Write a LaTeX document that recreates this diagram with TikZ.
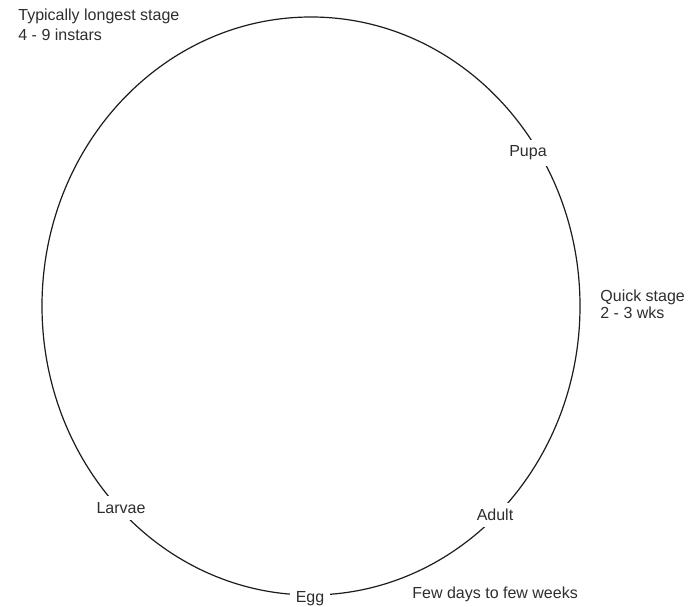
\documentclass[tikz,border=0pt]{standalone}
\usepackage{fontspec}
\setmainfont{Liberation Sans}
\usetikzlibrary{positioning}
\definecolor{ink}{HTML}{1C1C1C}
\definecolor{graph}{HTML}{2E2E2E}
\definecolor{paper}{HTML}{FFFFFF}

\begin{document}
\begin{tikzpicture}[x=0.5pt,y=0.5pt,every node/.style={font=\fontsize{8}{8.5}\selectfont,text=graph},
 stage/.style={fill=paper,inner sep=3pt},
 note/.style={align=left,inner sep=0pt},
 cycle/.style={draw=ink,line width=0.6pt}]
\useasboundingbox[fill=paper] (0,0) rectangle (695,606);
\coordinate (c) at (311,300);
\draw[cycle] (c) ellipse [x radius=134.5pt,y radius=144.5pt];
\node[stage](egg) at (310,7) {Egg};
\node[stage](larvae) at (121,98) {Larvae};
\node[stage](pupa) at (528,453) {Pupa};
\node[stage](adult) at (495,91) {Adult};
\node[note,anchor=north west,font=\fontsize{8}{10}\selectfont](long) at (18,597) {Typically longest stage\\4 - 9 instars};
\node[note,anchor=west](quick) at (600,302) {Quick stage\\2 - 3 wks};
\node[note,anchor=west](few) at (412,12) {Few days to few weeks};
\end{tikzpicture}
\end{document}
